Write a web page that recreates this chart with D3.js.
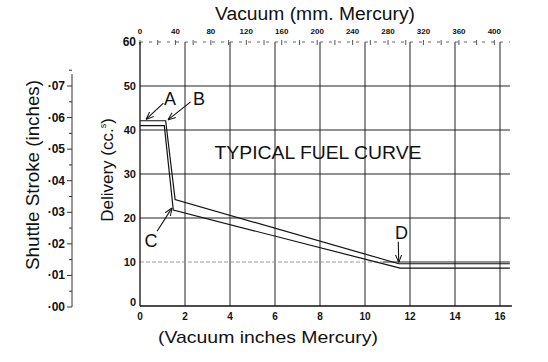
<!DOCTYPE html>
<html>
<head>
<meta charset="utf-8">
<script src="https://cdn.jsdelivr.net/npm/d3@7"></script>
<style>
 body { margin: 0; background: #fff; }
 svg { display: block; }
 text { font-family: "Liberation Sans", Arial, sans-serif; fill: #111; }
 .num { font-weight: bold; }
</style>
</head>
<body>
<svg width="548" height="362"></svg>
<script>
// chart values
var inchTicks = [0, 2, 4, 6, 8, 10, 12, 14, 16];
var deliveryTicks = [0, 10, 20, 30, 40, 50, 60];
var mmTicks = [0, 40, 80, 120, 160, 200, 240, 280, 320, 360, 400];
var strokeTicks = [0, 0.01, 0.02, 0.03, 0.04, 0.05, 0.06, 0.07];

// two edges of the fuel curve band (vacuum in. Hg, delivery cc)
var upperX = [0, 1.14, 1.56, 11.5, 16.44];
var upperY = [42.1, 42.1, 24.2, 9.6, 9.6];
var lowerX = [0, 1.08, 1.48, 11.56, 16.44];
var lowerY = [41.0, 41.0, 21.8, 8.6, 8.6];

// annotation letters: text position, arrow start, arrow tip (data units)
var notes = [
 {label: "A", tx: 1.33, ty: 45.7, x1: 1.04, y1: 46.1, x2: 0.27, y2: 42.4},
 {label: "B", tx: 2.62, ty: 45.7, x1: 2.25, y1: 46.4, x2: 1.24, y2: 42.3},
 {label: "C", tx: 0.49, ty: 13.4, x1: 0.76, y1: 17.0, x2: 1.42, y2: 22.3},
 {label: "D", tx: 11.62, ty: 15.2, x1: 11.48, y1: 14.6, x2: 11.5, y2: 9.9}
];

var svg = d3.select("svg");

var x = d3.scaleLinear().domain([0, 16]).range([140, 500]);
var y = d3.scaleLinear().domain([0, 60]).range([306, 42]);
var xmm = d3.scaleLinear().domain([0, 16 * 25.4]).range([140, 500]);
var ys = d3.scaleLinear().domain([0, 0.07]).range([307, y(50)]);

var xEnd = x(16.44);

// arrow head
svg.append("defs").append("marker")
 .attr("id", "head")
 .attr("viewBox", "0 0 10 10")
 .attr("refX", 10).attr("refY", 5)
 .attr("markerWidth", 7).attr("markerHeight", 7)
 .attr("orient", "auto")
 .append("path")
 .attr("d", "M0,1 L10,5 L0,9")
 .attr("fill", "none")
 .attr("stroke", "#111")
 .attr("stroke-width", 1.3);

// vertical grid
svg.selectAll(".vgrid")
 .data(inchTicks.filter(function(d) { return d > 0; }))
 .enter()
 .append("line")
 .attr("class", "vgrid")
 .attr("x1", function(d) { return x(d); })
 .attr("x2", function(d) { return x(d); })
 .attr("y1", y(60))
 .attr("y2", y(0))
 .attr("stroke", "#222")
 .attr("stroke-width", 1);

// horizontal grid (the 10 line is faded on the left in the print)
svg.selectAll(".hgrid")
 .data(deliveryTicks.filter(function(d) { return d > 0 && d < 60; }))
 .enter()
 .append("line")
 .attr("class", "hgrid")
 .attr("x1", function(d) { return d == 10 ? x(10.8) : x(0); })
 .attr("x2", xEnd)
 .attr("y1", function(d) { return y(d); })
 .attr("y2", function(d) { return y(d); })
 .attr("stroke", "#222")
 .attr("stroke-width", 1);

svg.append("line")
 .attr("x1", x(0)).attr("x2", x(10.8))
 .attr("y1", y(10)).attr("y2", y(10))
 .attr("stroke", "#999")
 .attr("stroke-dasharray", "4,2");

// top (mm) axis - faint dashed line
svg.append("line")
 .attr("x1", x(0)).attr("x2", xEnd)
 .attr("y1", y(60)).attr("y2", y(60))
 .attr("stroke", "#666")
 .attr("stroke-dasharray", "3,6");

svg.selectAll(".mmtick")
 .data(d3.range(0, 420, 20))
 .enter()
 .append("line")
 .attr("class", "mmtick")
 .attr("x1", function(d) { return xmm(d); })
 .attr("x2", function(d) { return xmm(d); })
 .attr("y1", y(60) - 2)
 .attr("y2", y(60) + 3)
 .attr("stroke", "#555");

svg.selectAll(".mmlab")
 .data(mmTicks)
 .enter()
 .append("text")
 .attr("class", "mmlab num")
 .attr("x", function(d) { return xmm(d); })
 .attr("y", 34)
 .attr("text-anchor", "middle")
 .attr("font-size", "8px")
 .text(function(d) { return d; });

// main axes lines
svg.append("line")
 .attr("x1", x(0)).attr("x2", x(0))
 .attr("y1", y(60)).attr("y2", y(0))
 .attr("stroke", "#111").attr("stroke-width", 1.3);
svg.append("line")
 .attr("x1", x(0)).attr("x2", xEnd + 2)
 .attr("y1", y(0)).attr("y2", y(0))
 .attr("stroke", "#111").attr("stroke-width", 1.3);

// delivery tick labels
svg.selectAll(".ylab")
 .data(deliveryTicks)
 .enter()
 .append("text")
 .attr("class", "ylab num")
 .attr("x", 136)
 .attr("y", function(d) { return y(d) + (d == 0 ? 0 : 4); })
 .attr("text-anchor", "end")
 .attr("font-size", function(d) { return d == 60 ? "12px" : "11px"; })
 .text(function(d) { return d; });

// inch tick labels
svg.selectAll(".xlab")
 .data(inchTicks)
 .enter()
 .append("text")
 .attr("class", "xlab num")
 .attr("x", function(d) { return x(d); })
 .attr("y", 320)
 .attr("text-anchor", "middle")
 .attr("font-size", "10px")
 .text(function(d) { return d; });

// shuttle stroke axis
var strokeAxis = svg.append("g");
strokeAxis.append("line")
 .attr("x1", 72).attr("x2", 72)
 .attr("y1", 74).attr("y2", ys(0))
 .attr("stroke", "#333");
strokeAxis.selectAll(".stick")
 .data(d3.range(0, 0.0751, 0.005))
 .enter()
 .append("line")
 .attr("class", "stick")
 .attr("x1", function(d, i) { return i % 2 ? 69 : 67; })
 .attr("x2", 72)
 .attr("y1", function(d) { return ys(d); })
 .attr("y2", function(d) { return ys(d); })
 .attr("stroke", "#333");
strokeAxis.selectAll(".slab")
 .data(strokeTicks)
 .enter()
 .append("text")
 .attr("class", "slab num")
 .attr("x", 65)
 .attr("y", function(d) { return ys(d) + 4; })
 .attr("text-anchor", "end")
 .attr("font-size", "12px")
 .text(function(d) { return "\u00b7" + d3.format("02d")(Math.round(d * 100)); });

// curves
var line = d3.line()
 .x(function(d) { return x(d[0]); })
 .y(function(d) { return y(d[1]); });

[[upperX, upperY], [lowerX, lowerY]].forEach(function(s) {
 svg.append("path")
  .datum(d3.zip(s[0], s[1]))
  .attr("d", line)
  .attr("fill", "none")
  .attr("stroke", "#111")
  .attr("stroke-width", 1.2);
});

// annotations
svg.selectAll(".arrow")
 .data(notes)
 .enter()
 .append("line")
 .attr("class", "arrow")
 .attr("x1", function(d) { return x(d.x1); })
 .attr("y1", function(d) { return y(d.y1); })
 .attr("x2", function(d) { return x(d.x2); })
 .attr("y2", function(d) { return y(d.y2); })
 .attr("stroke", "#111")
 .attr("stroke-width", 1.1)
 .attr("marker-end", "url(#head)");

svg.selectAll(".note")
 .data(notes)
 .enter()
 .append("text")
 .attr("class", "note")
 .attr("x", function(d) { return x(d.tx); })
 .attr("y", function(d) { return y(d.ty); })
 .attr("text-anchor", "middle")
 .attr("font-size", "18px")
 .text(function(d) { return d.label; });

// titles
svg.append("text")
 .attr("x", 315).attr("y", 20)
 .attr("text-anchor", "middle")
 .attr("font-size", "18px")
 .attr("textLength", 200)
 .attr("lengthAdjust", "spacingAndGlyphs")
 .text("Vacuum (mm. Mercury)");

svg.append("text")
 .attr("x", 268).attr("y", 343)
 .attr("text-anchor", "middle")
 .attr("font-size", "17px")
 .attr("textLength", 220)
 .attr("lengthAdjust", "spacingAndGlyphs")
 .text("(Vacuum inches Mercury)");

svg.append("text")
 .attr("x", 318).attr("y", 159)
 .attr("text-anchor", "middle")
 .attr("font-size", "19px")
 .attr("textLength", 207)
 .attr("lengthAdjust", "spacingAndGlyphs")
 .text("TYPICAL FUEL CURVE");

svg.append("text")
 .attr("transform", "translate(39,175) rotate(-90)")
 .attr("text-anchor", "middle")
 .attr("font-size", "18px")
 .attr("textLength", 190)
 .attr("lengthAdjust", "spacingAndGlyphs")
 .text("Shuttle Stroke (inches)");

var del = svg.append("text")
 .attr("transform", "translate(113,170) rotate(-90)")
 .attr("text-anchor", "middle")
 .attr("font-size", "17px");
del.append("tspan").text("Delivery (cc.");
del.append("tspan").attr("font-size", "9px").attr("dy", -7).text("s");
del.append("tspan").attr("dy", 7).text(")");
</script>
</body>
</html>
